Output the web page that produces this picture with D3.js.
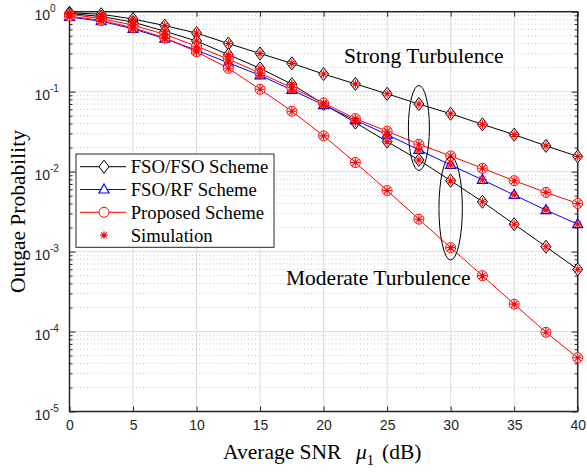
<!DOCTYPE html>
<html><head><meta charset="utf-8">
<script src="https://cdn.jsdelivr.net/npm/d3@7"></script>
<style>body{margin:0;background:#fff}svg{display:block}</style>
</head><body>
<svg id="chart" width="587" height="472"></svg>
<script>
const snr = [0,2.5,5,7.5,10,12.5,15,17.5,20,22.5,25,27.5,30,32.5,35,37.5,40];
const strongFSOFSO = [0.97,0.93,0.81,0.67,0.54,0.40,0.30,0.226,0.166,0.125,0.094,0.070,0.053,0.039,0.029,0.021,0.0155];
const moderateFSOFSO = [0.95,0.87,0.74,0.57,0.43,0.29,0.196,0.124,0.070,0.041,0.0237,0.014,0.0077,0.0042,0.0022,0.00115,0.0006];
const fsoRF = [0.86,0.76,0.61,0.46,0.33,0.23,0.16,0.105,0.068,0.044,0.029,0.0187,0.0121,0.0079,0.0051,0.0033,0.0022];
const strongProposed = [0.93,0.82,0.68,0.52,0.37,0.255,0.17,0.112,0.072,0.046,0.032,0.022,0.0157,0.011,0.0077,0.0055,0.0040];
const moderateProposed = [0.88,0.78,0.63,0.47,0.316,0.196,0.107,0.057,0.028,0.013,0.0058,0.00254,0.00112,0.0005,0.00022,0.000098,0.000047];
const xTicks = [0,5,10,15,20,25,30,35,40];
const yExponents = [0,-1,-2,-3,-4,-5];
const legendLabels = ["FSO/FSO Scheme","FSO/RF Scheme","Proposed Scheme","Simulation"];

const svg = d3.select("#chart");
const L=69.5, R=577.7, T=11.7, B=411.5;
const x = d3.scaleLinear().domain([0,40]).range([L,R]);
const y = d3.scaleLog().domain([1e-5,1]).range([B,T]);

// grid
const g = svg.append("g");
const minor = [];
for (let e=-5;e<0;e++) for (let k=2;k<=9;k++) minor.push(k*Math.pow(10,e));
g.selectAll(".ymin").data(minor).enter().append("line")
  .attr("x1",L).attr("x2",R).attr("y1",d=>y(d)).attr("y2",d=>y(d))
  .attr("stroke","#b8b8b8").attr("stroke-width",0.8).attr("stroke-dasharray","1,2.5");
g.selectAll(".ymaj").data(yExponents).enter().append("line")
  .attr("x1",L).attr("x2",R).attr("y1",d=>y(Math.pow(10,d))).attr("y2",d=>y(Math.pow(10,d)))
  .attr("stroke","#dcdcdc").attr("stroke-width",1);
g.selectAll(".xmaj").data(xTicks).enter().append("line")
  .attr("y1",T).attr("y2",B).attr("x1",d=>x(d)).attr("x2",d=>x(d))
  .attr("stroke","#dcdcdc").attr("stroke-width",1);

// axes ticks (inward)
const axc = "#262626";
const xb = svg.append("g").attr("transform",`translate(0,${B})`)
  .call(d3.axisBottom(x).tickValues(xTicks).tickSize(-5).tickPadding(9).tickFormat(d3.format("d")));
const xt = svg.append("g").attr("transform",`translate(0,${T})`)
  .call(d3.axisTop(x).tickValues(xTicks).tickSize(-5).tickFormat(""));
const yl = svg.append("g").attr("transform",`translate(${L},0)`)
  .call(d3.axisLeft(y).tickValues(yExponents.map(e=>Math.pow(10,e))).tickSize(-6).tickFormat(""));
const yr = svg.append("g").attr("transform",`translate(${R},0)`)
  .call(d3.axisRight(y).tickValues(yExponents.map(e=>Math.pow(10,e))).tickSize(-6).tickFormat(""));
const ylm = svg.append("g").attr("transform",`translate(${L},0)`)
  .call(d3.axisLeft(y).tickValues(minor).tickSize(-3).tickFormat(""));
const yrm = svg.append("g").attr("transform",`translate(${R},0)`)
  .call(d3.axisRight(y).tickValues(minor).tickSize(-3).tickFormat(""));
[xb,xt,yl,yr,ylm,yrm].forEach(a=>{
  a.select(".domain").remove();
  a.selectAll("line").attr("stroke",axc).attr("stroke-width",1);
});
xb.selectAll("text").attr("font-family","Liberation Sans, Arial, sans-serif").attr("font-size",14).attr("fill",axc);

// y tick labels with superscripts
const ylab = svg.append("g");
yExponents.forEach(e=>{
  const yy = y(Math.pow(10,e));
  ylab.append("text").attr("x",50).attr("y",yy+8).attr("text-anchor","end")
    .attr("font-family","Liberation Sans, Arial, sans-serif").attr("font-size",14).attr("fill",axc).text("10");
  ylab.append("text").attr("x",50).attr("y",yy+0.5).attr("text-anchor","start")
    .attr("font-family","Liberation Sans, Arial, sans-serif").attr("font-size",10).attr("fill",axc).text(String(e));
});

// box
svg.append("rect").attr("x",L).attr("y",T).attr("width",R-L).attr("height",B-T)
  .attr("fill","none").attr("stroke",axc).attr("stroke-width",1.5);

// markers
const diamondPath = "M0,-6.5L5,0L0,6.5L-5,0Z";
const triPath = "M0,-5.5L5,3.5L-5,3.5Z";
const starPath = (s)=>`M${-s},0L${s},0M0,${-s}L0,${s}M${-s*0.72},${-s*0.72}L${s*0.72},${s*0.72}M${-s*0.72},${s*0.72}L${s*0.72},${-s*0.72}`;

const series = [
  {v:strongFSOFSO,c:"#000000",m:"d"},
  {v:moderateFSOFSO,c:"#000000",m:"d"},
  {v:fsoRF,c:"#0000ff",m:"t"},
  {v:strongProposed,c:"#ff0000",m:"o"},
  {v:moderateProposed,c:"#ff0000",m:"o"}
];
const line = d3.line().x((d,i)=>x(snr[i])).y(d=>y(d));
const plot = svg.append("g");
function marker(sel,m,c){
  if(m==="d") sel.append("path").attr("d",diamondPath).attr("fill","#fff").attr("stroke",c).attr("stroke-width",1);
  else if(m==="t") sel.append("path").attr("d",triPath).attr("fill","#fff").attr("stroke",c).attr("stroke-width",1.2);
  else if(m==="o") sel.append("circle").attr("r",5).attr("fill","#fff").attr("stroke",c).attr("stroke-width",1);
}
series.forEach(s=>{
  plot.append("path").datum(s.v).attr("d",line).attr("fill","none").attr("stroke",s.c).attr("stroke-width",1);
  s.v.forEach((d,i)=>{
    const mg = plot.append("g").attr("transform",`translate(${x(snr[i])},${y(d)})`);
    marker(mg,s.m,s.c);
  });
});
series.forEach(s=>{
  s.v.forEach((d,i)=>{
    plot.append("path").attr("transform",`translate(${x(snr[i])},${y(d)})`)
      .attr("d",starPath(4.3)).attr("stroke","#ff0000").attr("stroke-width",1.1).attr("fill","none");
  });
});

// ellipses + annotations
svg.append("ellipse").attr("cx",x(27.5)).attr("cy",(y(0.07)+y(0.0187))/2+1).attr("rx",10.5).attr("ry",42.5)
  .attr("fill","none").attr("stroke","#000").attr("stroke-width",1);
svg.append("ellipse").attr("cx",x(30)).attr("cy",(y(0.0121)+y(0.00112))/2+2).attr("rx",11.7).attr("ry",51.7)
  .attr("fill","none").attr("stroke","#000").attr("stroke-width",1);
const serif = "Liberation Serif, Times New Roman, serif";
svg.append("text").attr("x",344).attr("y",63.3).attr("font-family",serif).attr("font-size",21.5).attr("fill","#000").text("Strong Turbulence");
svg.append("text").attr("x",286).attr("y",285).attr("font-family",serif).attr("font-size",21.5).attr("fill","#000").text("Moderate Turbulence");

// legend
const lg = svg.append("g");
lg.append("rect").attr("x",76).attr("y",154).attr("width",198).attr("height",93.3)
  .attr("fill","#fff").attr("stroke",axc).attr("stroke-width",1);
const legRows = [
  {c:"#000000",m:"d",line:true},
  {c:"#0000ff",m:"t",line:true},
  {c:"#ff0000",m:"o",line:true},
  {c:"#ff0000",m:"s",line:false}
];
legRows.forEach((r,i)=>{
  const yy = 166.7 + i*22.8;
  if(r.line) lg.append("line").attr("x1",80).attr("x2",126).attr("y1",yy).attr("y2",yy).attr("stroke",r.c).attr("stroke-width",1);
  const mg = lg.append("g").attr("transform",`translate(104,${yy})`);
  if(r.m==="s") mg.append("path").attr("d",starPath(3.8)).attr("stroke",r.c).attr("stroke-width",1.1).attr("fill","none");
  else marker(mg,r.m,r.c);
  lg.append("text").attr("x",130.7).attr("y",yy+6.5).attr("font-family",serif).attr("font-size",18.7).attr("fill","#000").text(legendLabels[i]);
});

// axis titles
const xt2 = svg.append("text").attr("y",459).attr("font-family",serif).attr("font-size",21.5).attr("fill","#000");
xt2.append("tspan").attr("x",223).text("Average SNR");
xt2.append("tspan").attr("x",356).attr("font-style","italic").text("μ");
xt2.append("tspan").attr("font-size",14.5).attr("dy",6).text("1");
xt2.append("tspan").attr("dy",-6).attr("dx",8).text("(dB)");
svg.append("text").attr("transform",`translate(25,${(T+B)/2}) rotate(-90)`).attr("text-anchor","middle")
  .attr("font-family",serif).attr("font-size",21.5).attr("fill","#000").text("Outgae Probability");
</script>
</body></html>
